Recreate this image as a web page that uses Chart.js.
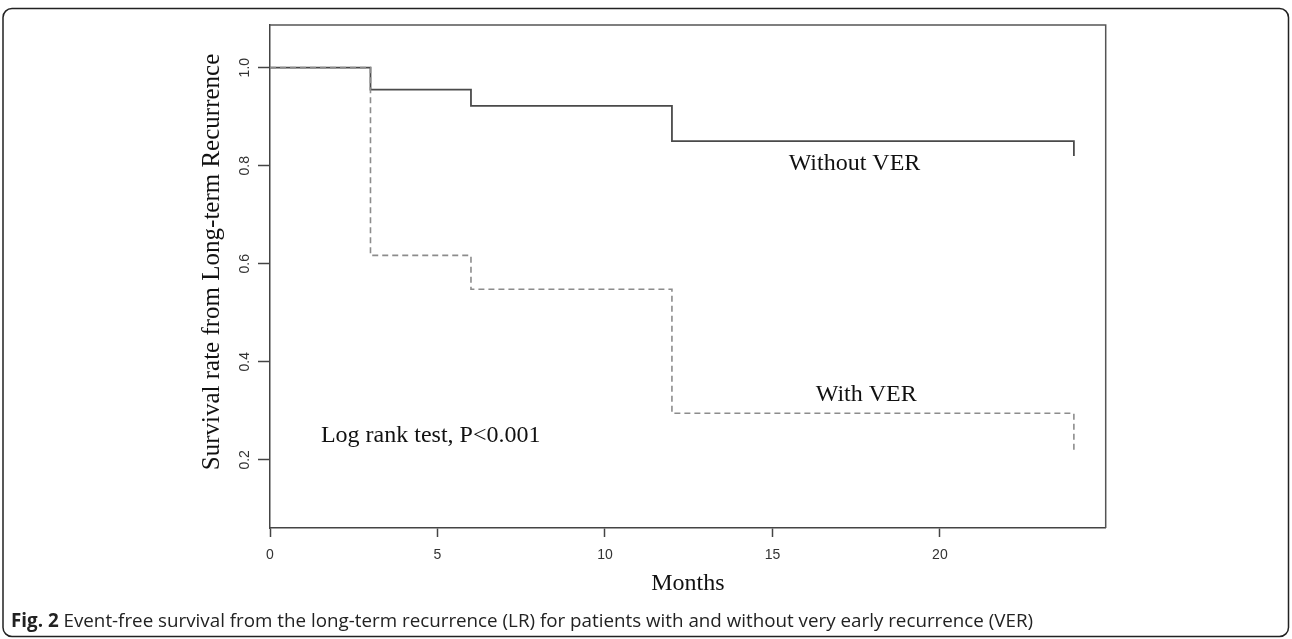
<!DOCTYPE html>
<html><head><meta charset="utf-8">
<script src="https://cdn.jsdelivr.net/npm/chart.js@4.4.1/dist/chart.umd.min.js"></script>
<style>html,body{margin:0;padding:0;background:#fff;overflow:hidden}canvas{display:block}</style>
</head><body>
<canvas id="c" width="1292" height="639"></canvas>
<script>
// ---- data ----
const months = [0, 3, 6, 12, 24, 24];
const survivalWithoutVER = [1.0, 0.955, 0.922, 0.850, 0.850, 0.820];
const survivalWithVER = [1.0, 0.617, 0.548, 0.295, 0.295, 0.218];
const xTickValues = [0, 5, 10, 15, 20];
const yTickValues = [0.2, 0.4, 0.6, 0.8, 1.0];
const seriesNames = ['With VER', 'Without VER'];
const xTitle = 'Months';
const yTitle = 'Survival rate from Long-term Recurrence';
const testText = 'Log rank test, P<0.001';
const captionBold = 'Fig. 2';
const captionText = ' Event-free survival from the long-term recurrence (LR) for patients with and without very early recurrence (VER)';

const toPts = (xs, ys) => xs.map((x, i) => ({x: x, y: ys[i]}));

const SERIF = '"Liberation Serif", "Times New Roman", serif';
const SANS = '"Liberation Sans", Arial, sans-serif';

const decor = {
  id: 'decor',
  afterDraw(chart) {
    const ctx = chart.ctx, a = chart.chartArea;
    const xs = chart.scales.x, ys = chart.scales.y;
    ctx.save();
    // plot box top/right
    ctx.strokeStyle = '#555'; ctx.lineWidth = 1.5;
    ctx.beginPath();
    ctx.moveTo(a.left, a.top); ctx.lineTo(a.right, a.top); ctx.lineTo(a.right, a.bottom);
    ctx.stroke();
    // curve labels & test text
    ctx.fillStyle = '#111';
    ctx.font = '24px ' + SERIF;
    ctx.textBaseline = 'alphabetic';
    ctx.textAlign = 'center';
    ctx.fillText(seriesNames[1], xs.getPixelForValue(17.45), ys.getPixelForValue(0.791));
    ctx.fillText(seriesNames[0], xs.getPixelForValue(17.8), ys.getPixelForValue(0.320));
    ctx.textAlign = 'left';
    ctx.fillText(testText, xs.getPixelForValue(1.52), ys.getPixelForValue(0.236));
    // y title
    ctx.save();
    ctx.translate(212, 262);
    ctx.rotate(-Math.PI / 2);
    ctx.textAlign = 'center'; ctx.textBaseline = 'middle';
    ctx.font = '25px ' + SERIF;
    ctx.fillText(yTitle, 0, 0);
    ctx.restore();
    // outer frame
    ctx.strokeStyle = '#222'; ctx.lineWidth = 1.5;
    ctx.beginPath();
    ctx.roundRect(3, 8.5, 1285.5, 628, 9);
    ctx.stroke();
    // caption
    ctx.textAlign = 'left'; ctx.textBaseline = 'alphabetic';
    ctx.fillStyle = '#222';
    ctx.font = 'bold 18.8px "Open Sans", sans-serif';
    ctx.fillText(captionBold, 11, 627);
    const w = ctx.measureText(captionBold).width;
    ctx.font = '18.8px "Open Sans", sans-serif';
    ctx.fillText(captionText, 11 + w, 627);
    ctx.restore();
  }
};

new Chart(document.getElementById('c'), {
  type: 'line',
  data: {
    datasets: [
      {
        label: seriesNames[0],
        data: toPts(months, survivalWithVER),
        stepped: 'before',
        borderColor: '#8c8c8c',
        borderWidth: 1.6,
        borderDash: [6, 4],
        pointRadius: 0,
        fill: false
      },
      {
        label: seriesNames[1],
        data: toPts(months, survivalWithoutVER),
        stepped: 'before',
        borderColor: '#4a4a4a',
        borderWidth: 1.8,
        pointRadius: 0,
        fill: false
      }
    ]
  },
  options: {
    responsive: false,
    animation: false,
    events: [],
    layout: {padding: {left: 0, right: 186.3, top: 25, bottom: 39}},
    plugins: {legend: {display: false}, tooltip: {enabled: false}},
    scales: {
      x: {
        type: 'linear',
        min: 0, max: 24.95,
        afterFit: s => { s.height = 72; },
        afterBuildTicks: s => { s.ticks = xTickValues.map(v => ({value: v})); },
        border: {display: true, color: '#444', width: 1.5},
        grid: {display: true, drawOnChartArea: false, drawTicks: true, tickLength: 9, tickColor: '#444', tickWidth: 1.5},
        ticks: {padding: 10, color: '#333', font: {family: SANS, size: 14}, maxRotation: 0, minRotation: 0,
                callback: v => String(v)},
        title: {display: true, text: xTitle, color: '#111', font: {family: SERIF, size: 24}, padding: {top: 0, bottom: 2}}
      },
      y: {
        type: 'linear',
        min: 0.061, max: 1.087,
        afterFit: s => { s.width = 270; },
        afterBuildTicks: s => { s.ticks = yTickValues.map(v => ({value: v})); },
        border: {display: true, color: '#444', width: 1.5},
        grid: {display: true, drawOnChartArea: false, drawTicks: true, tickLength: 12, tickColor: '#444', tickWidth: 1.5},
        ticks: {padding: 3, color: '#333', font: {family: SANS, size: 14}, minRotation: 90, maxRotation: 90,
                crossAlign: 'center', callback: v => Number(v).toFixed(1)}
      }
    }
  },
  plugins: [decor]
});
</script>
</body></html>
